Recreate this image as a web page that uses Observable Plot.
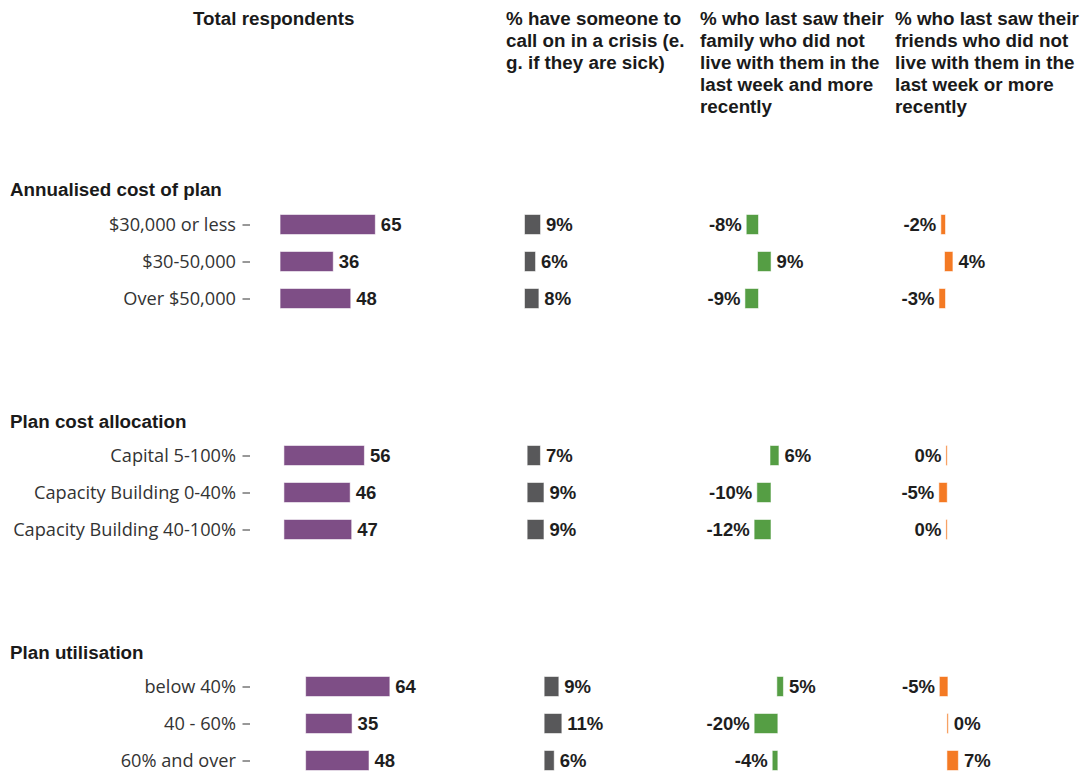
<!DOCTYPE html>
<html><head><meta charset="utf-8">
<script src="https://cdn.jsdelivr.net/npm/d3@7"></script>
<script src="https://cdn.jsdelivr.net/npm/@observablehq/plot@0.6"></script>
<style>
body{margin:0;background:#fff;}
#chart{position:relative;width:1081px;height:772px;font-family:"Liberation Sans",Arial,sans-serif;overflow:hidden;}
.colhead{position:absolute;top:8px;font-weight:bold;font-size:18.8px;line-height:22px;color:#1a1a1a;white-space:nowrap;}
.grouphead{position:absolute;left:10px;font-weight:bold;font-size:18.8px;line-height:20px;color:#1a1a1a;white-space:nowrap;}
.group{position:absolute;left:0;width:1081px;height:150px;}
.group svg{position:absolute;left:0;top:0;background:transparent;}
</style></head><body><div id="chart"></div><script>
// ---- data ----
const columnTitles = [
  ["Total respondents"],
  ["% have someone to", "call on in a crisis (e.", "g. if they are sick)"],
  ["% who last saw their", "family who did not", "live with them in the", "last week and more", "recently"],
  ["% who last saw their", "friends who did not", "live with them in the", "last week or more", "recently"]
];
const groupNames = ["Annualised cost of plan", "Plan cost allocation", "Plan utilisation"];
const categories1 = ["$30,000 or less", "$30-50,000", "Over $50,000"];
const categories2 = ["Capital 5-100%", "Capacity Building 0-40%", "Capacity Building 40-100%"];
const categories3 = ["below 40%", "40 - 60%", "60% and over"];
const respondents1 = [65, 36, 48];
const respondents2 = [56, 46, 47];
const respondents3 = [64, 35, 48];
const crisis1 = [9, 6, 8];
const crisis2 = [7, 9, 9];
const crisis3 = [9, 11, 6];
const family1 = [-8, 9, -9];
const family2 = [6, -10, -12];
const family3 = [5, -20, -4];
const friends1 = [-2, 4, -3];
const friends2 = [-0.3, -5, -0.3];
const friends3 = [-5, 0.3, 7];

// ---- layout (not data) ----
const colors = ["#7e4e86", "#58585a", "#559e44", "#f47a24"];
const colHeadLeft = [193, 506, 700, 895];
const groupTops = [180, 411, 642];
const groupHeadTops = [180, 412, 643];
// per group, per column: [zero pixel, pixels per unit]
const scales = [
  [[280.6, 1.45], [525, 1.67], [758, 1.4], [945, 1.85]],
  [[284.4, 1.42], [527.7, 1.75], [770.5, 1.32], [946.8, 1.5]],
  [[306.1, 1.30], [544.7, 1.51], [777.3, 1.13], [947.4, 1.5]]
];

const chart = document.getElementById("chart");
columnTitles.forEach((lines, i) => {
  const d = document.createElement("div");
  d.className = "colhead";
  d.style.left = colHeadLeft[i] + "px";
  d.innerHTML = lines.map(l => l.replace(/&/g,"&amp;")).join("<br>");
  chart.appendChild(d);
});

const groupData = [
  {cats: categories1, cols: [respondents1, crisis1, family1, friends1]},
  {cats: categories2, cols: [respondents2, crisis2, family2, friends2]},
  {cats: categories3, cols: [respondents3, crisis3, family3, friends3]}
];

const fmtCount = v => `${Math.round(v)}`;
const fmtPct = v => `${Math.round(v)}%`;

groupData.forEach((g, gi) => {
  const h = document.createElement("div");
  h.className = "grouphead";
  h.style.top = groupHeadTops[gi] + "px";
  h.textContent = groupNames[gi];
  chart.appendChild(h);

  const box = document.createElement("div");
  box.className = "group";
  box.style.top = groupTops[gi] + "px";
  chart.appendChild(box);

  g.cols.forEach((vals, ci) => {
    const data = g.cats.map((c, i) => ({cat: c, v: vals[i]}));
    const [z, s] = scales[gi][ci];
    const fmt = ci === 0 ? fmtCount : fmtPct;
    const marks = [
      Plot.barX(data, {x: "v", y: "cat", fill: colors[ci], stroke: colors[ci], strokeOpacity: 0.45, strokeWidth: 1}),
      Plot.text(data, {filter: d => d.v >= 0, x: "v", y: "cat", text: d => fmt(d.v), textAnchor: "start", dx: 5.5, fontWeight: "bold", fontSize: 18.5, fill: "#1e1e1e"}),
      Plot.text(data, {filter: d => d.v < 0, x: "v", y: "cat", text: d => fmt(d.v), textAnchor: "end", dx: -5.5, fontWeight: "bold", fontSize: 18.5, fill: "#1e1e1e"})
    ];
    if (ci === 0) {
      marks.push(Plot.axisY({anchor: "left", tickSize: 7.5, tickPadding: 7, fontSize: 18.2, fontFamily: "'Open Sans', sans-serif", color: "#333333", label: null}));
    }
    const svg = Plot.plot({
      width: 1081,
      height: 150,
      marginLeft: 250,
      marginRight: 0,
      marginTop: 0,
      marginBottom: 0,
      x: {domain: [-100, 100], range: [z - 100 * s, z + 100 * s], axis: null},
      y: {domain: g.cats, range: [16.75, 147.25], padding: 0.48, axis: null},
      style: {fontFamily: "'Liberation Sans', Arial, sans-serif", fontSize: "16px", background: "transparent", overflow: "visible"},
      marks
    });
    box.appendChild(svg);
  });
});
</script></body></html>
